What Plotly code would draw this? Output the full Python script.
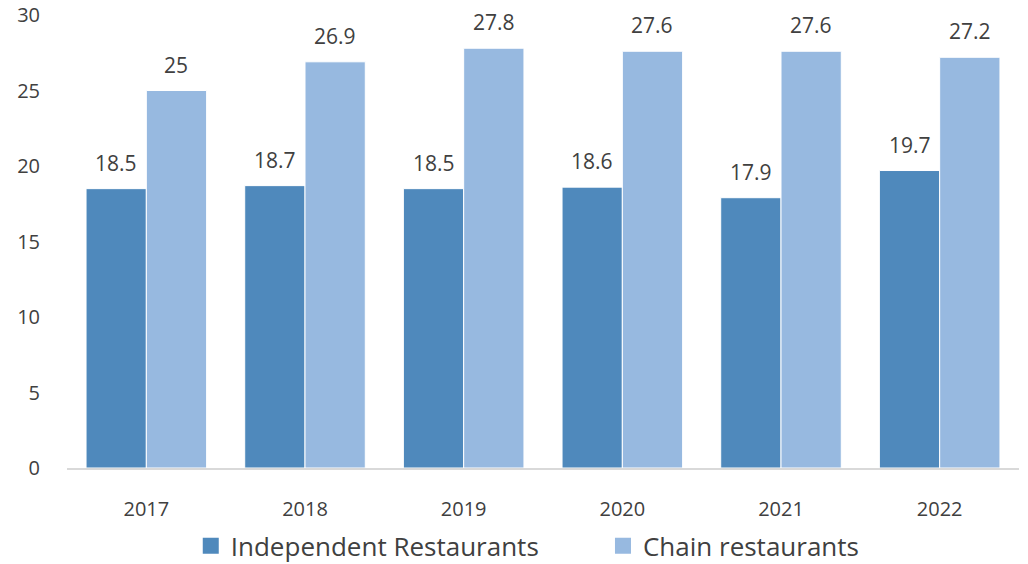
import plotly.graph_objects as go

years = ["2017", "2018", "2019", "2020", "2021", "2022"]
independent = [18.5, 18.7, 18.5, 18.6, 17.9, 19.7]
chain = [25, 26.9, 27.8, 27.6, 27.6, 27.2]
y_ticks = [0, 5, 10, 15, 20, 25, 30]

FONT = "Open Sans"
TEXT = "#404040"
DARK = "#4F89BC"
LIGHT = "#97B9E0"

series = [
    ("Independent Restaurants", independent, DARK, -30, "legend", 0.130),
    ("Chain restaurants", chain, LIGHT, 30, "legend2", 0.563),
]

fig = go.Figure()
for name, vals, color, _, _, _ in series:
    fig.add_trace(go.Bar(
        name=name, x=years, y=vals, showlegend=False,
        marker=dict(color=color, line=dict(color="white", width=1)),
    ))

# square legend swatches, one legend box per series
for name, vals, color, _, leg, _ in series:
    fig.add_trace(go.Scatter(
        name=name, x=[years[0]], y=[None], mode="markers", legend=leg,
        marker=dict(symbol="square", size=19, color=color),
    ))

# value labels above each bar (category index on the x axis)
for name, vals, color, dx, _, _ in series:
    for i, v in enumerate(vals):
        fig.add_annotation(
            x=i, y=v, xshift=dx, yshift=10, yanchor="bottom",
            text=f"{v:g}", showarrow=False,
            font=dict(family=FONT, size=21, color=TEXT),
        )

legend_style = dict(orientation="h", xanchor="left", y=-0.172, yanchor="middle",
                    font=dict(family=FONT, size=26, color=TEXT), itemwidth=30)

fig.update_layout(
    width=1028, height=564,
    margin=dict(l=67, r=9, t=15, b=96, autoexpand=False),
    paper_bgcolor="white", plot_bgcolor="white",
    barmode="group", bargap=0.24, bargroupgap=0,
    font=dict(family=FONT, color=TEXT),
    showlegend=True,
    legend=dict(x=series[0][5], **legend_style),
    legend2=dict(x=series[1][5], **legend_style),
)
fig.update_xaxes(
    type="category", categoryorder="array", categoryarray=years,
    range=[-0.5, len(years) - 0.5],
    showline=True, linecolor="#D9D9D9", linewidth=1.5,
    ticks="", tickfont=dict(family=FONT, size=20, color=TEXT),
    ticklabelstandoff=22, showgrid=False,
)
fig.update_yaxes(
    range=[0, 30], tickvals=y_ticks, showgrid=False, zeroline=False,
    showline=False, ticks="", tickfont=dict(family=FONT, size=20, color=TEXT),
    ticklabelstandoff=26,
)

fig.write_html("out.html")
